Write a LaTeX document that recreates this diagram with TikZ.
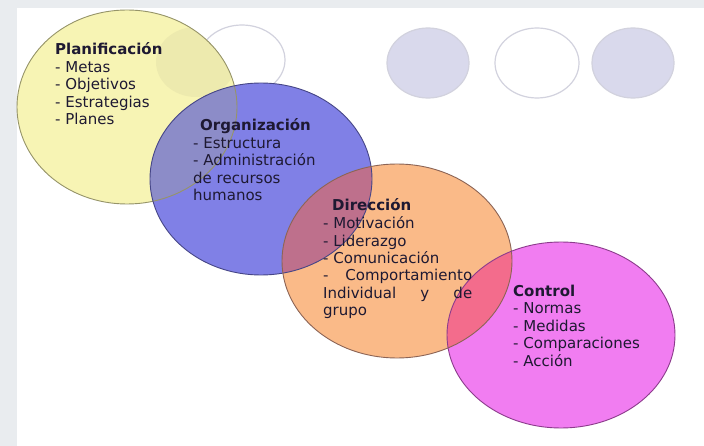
\documentclass[tikz,border=0pt]{standalone}
\usepackage{fontspec}
\setmainfont{DejaVu Sans}
\usetikzlibrary{positioning}

\definecolor{framegray}{RGB}{233,236,239}
\definecolor{textdark}{RGB}{30,25,50}
\definecolor{planfill}{RGB}{247,244,180}
\definecolor{planline}{RGB}{150,148,105}
\definecolor{orgfill}{RGB}{128,128,230}
\definecolor{orgline}{RGB}{70,70,135}
\definecolor{dirfill}{RGB}{250,186,136}
\definecolor{dirline}{RGB}{140,100,85}
\definecolor{ctrlfill}{RGB}{241,125,241}
\definecolor{ctrlline}{RGB}{140,60,140}
\definecolor{planorg}{RGB}{140,140,200}
\definecolor{orgdir}{RGB}{190,112,140}
\definecolor{dirctrl}{RGB}{243,108,140}
\definecolor{ghostfill}{RGB}{217,217,236}
\definecolor{ghostline}{RGB}{210,210,222}
\definecolor{planghost}{RGB}{237,234,174}

\begin{document}
\begin{tikzpicture}[x=1pt,y=-1pt,
    lbl/.style={anchor=base west,inner sep=0pt,align=left,text=textdark,
      font=\fontsize{15}{17.5}\selectfont},
    rim/.style={line width=0.9pt},
    ghost/.style={line width=1.2pt,draw=ghostline}]
    \useasboundingbox (0,0) rectangle (704,446);
    \fill[white] (0,0) rectangle (704,446);
    \fill[framegray] (0,0) rectangle (17,446);
    \fill[framegray] (17,0) rectangle (704,8);

    \coordinate (plan) at (127,107);
    \coordinate (org) at (261,179);
    \coordinate (dir) at (397,261);
    \coordinate (ctrl) at (561,335);
    \coordinate (ghost_a) at (196,62);
    \coordinate (ghost_b) at (242,60);
    \coordinate (ghost_c) at (428,63);
    \coordinate (ghost_d) at (537,63);
    \coordinate (ghost_e) at (633,63);

    % faint circles in the background
    \draw[ghost] (ghost_b) ellipse [x radius=43,y radius=35];
    \filldraw[ghost,fill=ghostfill] (ghost_c) ellipse [x radius=41,y radius=35];
    \draw[ghost] (ghost_d) ellipse [x radius=42,y radius=35];
    \filldraw[ghost,fill=ghostfill] (ghost_e) ellipse [x radius=41,y radius=35];

    \fill[planfill] (plan) ellipse [x radius=110,y radius=97];
    \fill[orgfill] (org) ellipse [x radius=111,y radius=96];
    \fill[dirfill] (dir) ellipse [x radius=115,y radius=97];
    \fill[ctrlfill] (ctrl) ellipse [x radius=114,y radius=93];

    % overlaps
    \begin{scope}
        \clip (plan) ellipse [x radius=110,y radius=97];
        \fill[planghost] (ghost_a) ellipse [x radius=40,y radius=35];
        \fill[planorg] (org) ellipse [x radius=111,y radius=96];
    \end{scope}
    \begin{scope}
        \clip (org) ellipse [x radius=111,y radius=96];
        \fill[orgdir] (dir) ellipse [x radius=115,y radius=97];
    \end{scope}
    \begin{scope}
        \clip (dir) ellipse [x radius=115,y radius=97];
        \fill[dirctrl] (ctrl) ellipse [x radius=114,y radius=93];
    \end{scope}

    \draw[rim,planline] (plan) ellipse [x radius=110,y radius=97];
    \draw[rim,orgline] (org) ellipse [x radius=111,y radius=96];
    \draw[rim,dirline] (dir) ellipse [x radius=115,y radius=97];
    \draw[rim,ctrlline] (ctrl) ellipse [x radius=114,y radius=93];

    % base = last line of each text
    \node[lbl] (plan_text) at (55,125) {\textbf{Planificación}\\- Metas\\- Objetivos\\- Estrategias\\- Planes};
    \node[lbl] (org_text) at (193,201) {\hspace*{7pt}\textbf{Organización}\\- Estructura\\- Administración\\de recursos\\humanos};
    \node[lbl] (dir_text) at (323,316) {\hspace*{9pt}\textbf{Dirección}\\- Motivación\\- Liderazgo\\- Comunicación\\\makebox[149pt]{-\hfill Comportamiento}\\\makebox[149pt]{Individual\hfill y\hfill de}\\grupo};
    \node[lbl] (ctrl_text) at (513,366) {\textbf{Control}\\- Normas\\- Medidas\\- Comparaciones\\- Acción};
\end{tikzpicture}
\end{document}
